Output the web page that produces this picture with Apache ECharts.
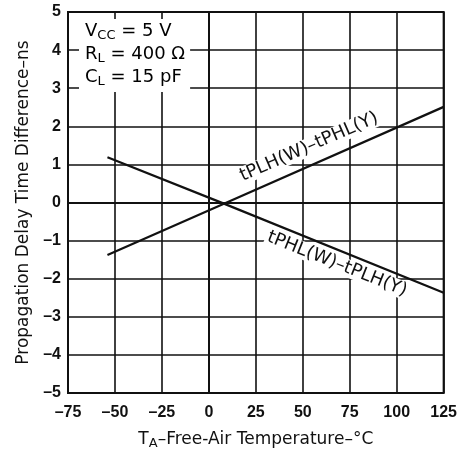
<!DOCTYPE html>
<html>
<head>
<meta charset="utf-8">
<script src="https://cdn.jsdelivr.net/npm/echarts@6/dist/echarts.min.js"></script>
<style>
html, body { margin: 0; padding: 0; background: #fff; }
#chart { width: 460px; height: 461px; }
</style>
</head>
<body>
<div id="chart"></div>
<script>
// temperatures (°C)
var temps = [-54, 8, 125];
// tPHL(W)-tPLH(Y), ns
var phlPlh = [1.19, -0.03, -2.37];
// tPLH(W)-tPHL(Y), ns
var plhPhl = [-1.38, -0.03, 2.51];

var xTicks = [-75, -50, -25, 0, 25, 50, 75, 100, 125];
var yTicks = [-5, -4, -3, -2, -1, 0, 1, 2, 3, 4, 5];

var font = '"Liberation Sans", Arial, sans-serif';
var wide = '"DejaVu Sans", sans-serif';

function pairs(xs, ys) {
    return xs.map(function (x, i) { return [x, ys[i]]; });
}
function dash(v) {
    return String(v).replace('-', '\u2013');
}

var dom = document.getElementById("chart");
var myChart = echarts.init(dom);
var option = null;

var mainStyle = { fontSize: 18, fontFamily: wide, color: '#111' };
var subStyle = { fontSize: 13, fontFamily: wide, color: '#111', padding: [9, 0, 0, 0] };

option = {
    animation: false,
    backgroundColor: '#fff',
    grid: {
        left: 68,
        right: 11,
        top: 12,
        bottom: 68,
        show: true,
        borderColor: '#111',
        borderWidth: 2
    },
    xAxis: {
        type: 'value',
        min: xTicks[0],
        max: xTicks[xTicks.length - 1],
        interval: 25,
        name: '{m|T}{s|A}{m|\u2013Free-Air Temperature\u2013\u00b0C}',
        nameLocation: 'middle',
        nameGap: 36,
        nameTextStyle: {
            rich: {
                m: { fontSize: 17, fontFamily: wide, color: '#111' },
                s: { fontSize: 13, fontFamily: wide, color: '#111', padding: [8, 0, 0, 0] }
            }
        },
        axisLine: { show: true, lineStyle: { color: '#111', width: 2 } },
        axisTick: { show: false },
        axisLabel: {
            margin: 12,
            fontSize: 16,
            fontWeight: 'bold',
            fontFamily: font,
            color: '#111',
            formatter: dash
        },
        splitLine: { show: true, lineStyle: { color: '#111', width: 1.6 } }
    },
    yAxis: {
        type: 'value',
        min: yTicks[0],
        max: yTicks[yTicks.length - 1],
        interval: 1,
        name: 'Propagation Delay Time Difference\u2013ns',
        nameLocation: 'middle',
        nameGap: 35,
        nameTextStyle: { fontSize: 17, fontFamily: wide, color: '#111' },
        axisLine: { show: true, lineStyle: { color: '#111', width: 2 } },
        axisTick: { show: false },
        axisLabel: {
            margin: 7,
            fontSize: 16,
            fontWeight: 'bold',
            fontFamily: font,
            color: '#111',
            formatter: dash
        },
        splitLine: { show: true, lineStyle: { color: '#111', width: 1.6 } }
    },
    series: [
        {
            name: 'tPHL(W)-tPLH(Y)',
            type: 'line',
            data: pairs(temps, phlPlh),
            symbol: 'none',
            z: 3,
            lineStyle: { color: '#111', width: 2.2 }
        },
        {
            name: 'tPLH(W)-tPHL(Y)',
            type: 'line',
            data: pairs(temps, plhPhl),
            symbol: 'none',
            z: 3,
            lineStyle: { color: '#111', width: 2.2 }
        }
    ],
    graphic: [
        {
            type: 'text',
            left: 79,
            top: 19,
            z: 10,
            style: {
                text: '{m|V}{s|CC}{m| = 5 V}\n{m|R}{s|L}{m| = 400 \u03a9}\n{m|C}{s|L}{m| = 15 pF}',
                backgroundColor: '#fff',
                padding: [1, 5, 3, 6],
                lineHeight: 23,
                rich: { m: mainStyle, s: subStyle }
            }
        },
        {
            type: 'text',
            x: 309,
            y: 147,
            rotation: 23.6 * Math.PI / 180,
            z: 10,
            style: {
                text: 'tPLH(W)\u2013tPHL(Y)',
                align: 'center',
                verticalAlign: 'middle',
                fontSize: 18,
                fontFamily: wide,
                fill: '#111',
                backgroundColor: '#fff',
                padding: [0, 2]
            }
        },
        {
            type: 'text',
            x: 337,
            y: 264,
            rotation: -21.7 * Math.PI / 180,
            z: 10,
            style: {
                text: 'tPHL(W)\u2013tPLH(Y)',
                align: 'center',
                verticalAlign: 'middle',
                fontSize: 18,
                fontFamily: wide,
                fill: '#111',
                backgroundColor: '#fff',
                padding: [0, 2]
            }
        }
    ]
};

if (option && typeof option === "object") {
    myChart.setOption(option, true);
}
</script>
</body>
</html>
